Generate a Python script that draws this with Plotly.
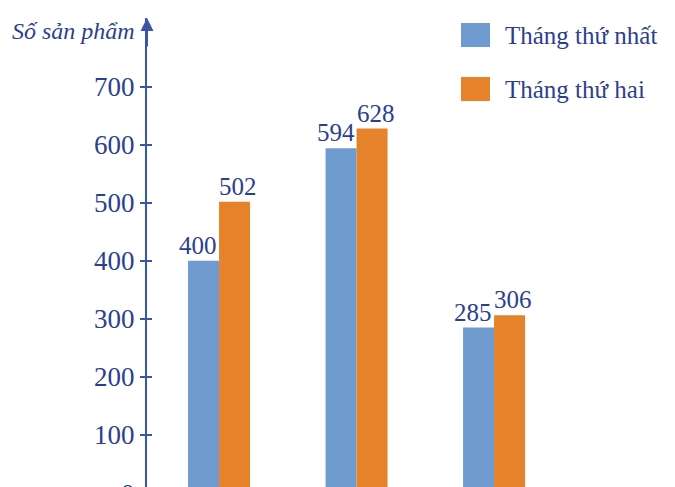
import plotly.graph_objects as go

categories = ["Loại 1", "Loại 2", "Loại 3"]
thang_1 = [400, 594, 285]
thang_2 = [502, 628, 306]
series_names = ["Tháng thứ nhất", "Tháng thứ hai"]
y_ticks = [100, 200, 300, 400, 500, 600, 700]
y_title = "Số sản phẩm"

BLUE = "#6f9bd1"
ORANGE = "#e5822a"
TEXT = "#2b3f8e"
AXIS = "#3a55a6"
FONT = "Liberation Serif"
FS = 27

W, H = 675, 487
ML, MR, MT, MB = 147, 10, 18, 0

fig = go.Figure()
for name, vals, col in [(series_names[0], thang_1, BLUE), (series_names[1], thang_2, ORANGE)]:
    fig.add_trace(go.Bar(
        x=categories, y=vals, name=name, marker=dict(color=col, line=dict(width=0)),
        showlegend=False, cliponaxis=True,
    ))

# value labels, positioned from the data
for vals, shift in [(thang_1, -21), (thang_2, 19)]:
    for c, v in zip(categories, vals):
        fig.add_annotation(x=c, y=v, xref="x", yref="y", text=str(v), showarrow=False,
                           xanchor="center", yanchor="bottom", xshift=shift, yshift=0,
                           font=dict(family=FONT, size=25, color=TEXT))

yr = [10, 818.6]
fig.update_layout(
    width=W, height=H, margin=dict(l=ML, r=MR, t=MT, b=MB),
    paper_bgcolor="white", plot_bgcolor="white",
    barmode="group", bargap=0.549, bargroupgap=0,
    font=dict(family=FONT, size=FS, color=TEXT),
    xaxis=dict(range=[-0.524, 3.243], showticklabels=False, showgrid=False,
               zeroline=False, showline=False, ticks=""),
    yaxis=dict(range=yr, tickvals=y_ticks, ticks="outside", ticklen=5, tickwidth=1.5,
               tickcolor=AXIS, showline=True, linecolor=AXIS, linewidth=2,
               showgrid=False, zeroline=False, ticklabelstandoff=0,
               tickfont=dict(family=FONT, size=FS, color=TEXT)),
    yaxis2=dict(range=yr, tickvals=y_ticks, ticks="inside", ticklen=5, tickwidth=1.5,
                tickcolor=AXIS, overlaying="y", side="left", showticklabels=False,
                showgrid=False, zeroline=False, showline=False),
)
# dummy trace to activate yaxis2
fig.add_trace(go.Scatter(x=[categories[0]], y=[None], yaxis="y2", showlegend=False,
                         hoverinfo="skip"))

pw = W - ML - MR
ph = H - MT - MB
def px(xp):
    return (xp - ML) / pw
def py(yp):
    return (H - MB - yp) / ph

# axis arrowhead
fig.add_annotation(xref="paper", yref="paper", x=0, y=1, ax=0, ay=30, axref="pixel",
                   showarrow=True, arrowhead=2, arrowsize=1.3, arrowwidth=2,
                   arrowcolor=AXIS, text="")
# y title
fig.add_annotation(xref="paper", yref="paper", x=px(137), y=py(31), xanchor="right",
                   yanchor="middle", showarrow=False, text=y_title,
                   font=dict(family=FONT, size=24, color=TEXT, style="italic"))
# partial 0 label
fig.add_annotation(xref="paper", yref="paper", x=px(137), y=py(494), xanchor="right",
                   yanchor="middle", showarrow=False, text="0",
                   font=dict(family=FONT, size=FS, color=TEXT))

# manual legend
for i, (name, col) in enumerate([(series_names[0], BLUE), (series_names[1], ORANGE)]):
    yc = 35 + i * 54
    fig.add_shape(type="rect", xref="paper", yref="paper", x0=px(461), x1=px(490),
                  y0=py(yc - 12), y1=py(yc + 12), fillcolor=col, line=dict(width=0))
    fig.add_annotation(xref="paper", yref="paper", x=px(503), y=py(yc), xanchor="left",
                       yanchor="middle", showarrow=False, text=name,
                       font=dict(family=FONT, size=25, color=TEXT))

fig.write_html("out.html")
